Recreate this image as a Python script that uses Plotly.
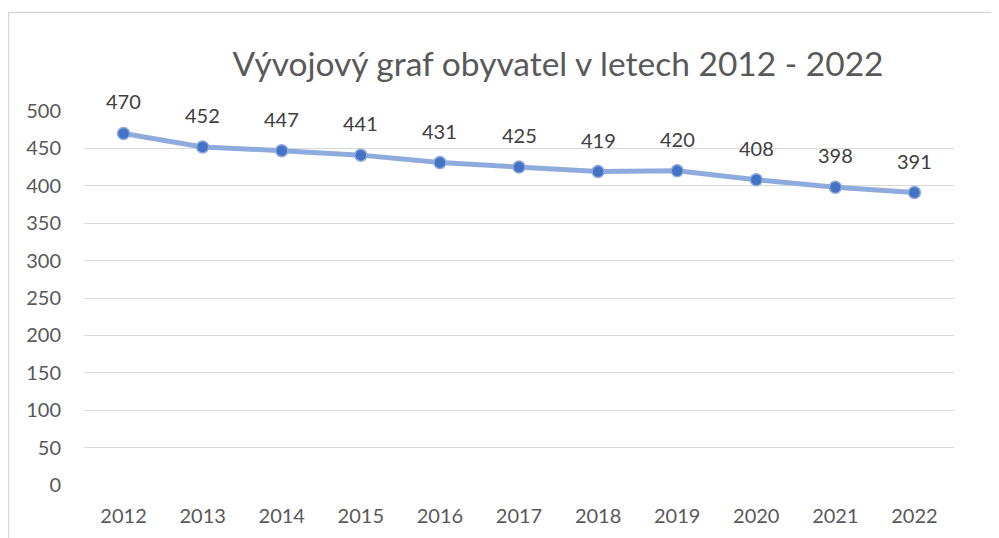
import plotly.graph_objects as go

years = ["2012", "2013", "2014", "2015", "2016", "2017", "2018", "2019", "2020", "2021", "2022"]
population = [470, 452, 447, 441, 431, 425, 419, 420, 408, 398, 391]
y_ticks = [0, 50, 100, 150, 200, 250, 300, 350, 400, 450, 500]

OFF = 8  # page body margin
W, H = 999 - OFF, 538 - OFF
L, T = 84 - OFF, 111 - OFF
R = W - (954 - OFF)
B = H - (485 - OFF)
pw, ph = W - L - R, H - T - B
FONT = "Lato, Noto Sans, sans-serif"

fig = go.Figure()
fig.add_trace(go.Scatter(
    x=years, y=population, mode="lines+markers",
    line=dict(color="#8faadc", width=5),
    marker=dict(size=12, color="#4472c4", line=dict(color="#8faadc", width=1.5)),
    hoverinfo="skip", showlegend=False,
))
for i, yv in enumerate(population):
    fig.add_annotation(x=i, y=yv, xref="x", yref="y", text=str(yv), showarrow=False, yshift=32,
                       font=dict(family=FONT, size=20, color="#404040"))

def px(x):
    return (x - OFF - L) / pw

def py(y):
    return (H - B - (y - OFF)) / ph

fig.add_shape(type="line", xref="paper", yref="paper", x0=px(8.5), x1=px(1010), y0=py(12.5), y1=py(12.5),
              line=dict(color="#d9d9d9", width=1.5))
fig.add_shape(type="line", xref="paper", yref="paper", x0=px(8.5), x1=px(8.5), y0=py(12.5), y1=py(560),
              line=dict(color="#d9d9d9", width=1.5))

fig.update_layout(
    width=W, height=H,
    margin=dict(l=L, r=R, t=T, b=B),
    paper_bgcolor="white", plot_bgcolor="white",
    title=dict(text="Vývojový graf obyvatel v letech 2012 - 2022", x=(558 - OFF) / W, xanchor="center",
               y=1 - (64 - OFF) / H, yanchor="middle",
               font=dict(family=FONT, size=33.5, color="#595959")),
    xaxis=dict(type="category", categoryorder="array", categoryarray=years, range=[-0.5, 10.5],
               showgrid=False, showline=False, zeroline=False, ticks="", ticklabelstandoff=17,
               tickfont=dict(family=FONT, size=20, color="#595959")),
    yaxis=dict(range=[0, 500], tickvals=y_ticks, ticktext=[str(v) for v in y_ticks],
               showgrid=True, gridcolor="#d9d9d9", gridwidth=1, zeroline=False, showline=False,
               ticks="", ticklabelstandoff=22,
               tickfont=dict(family=FONT, size=20, color="#595959")),
)
fig.write_html("out.html")
